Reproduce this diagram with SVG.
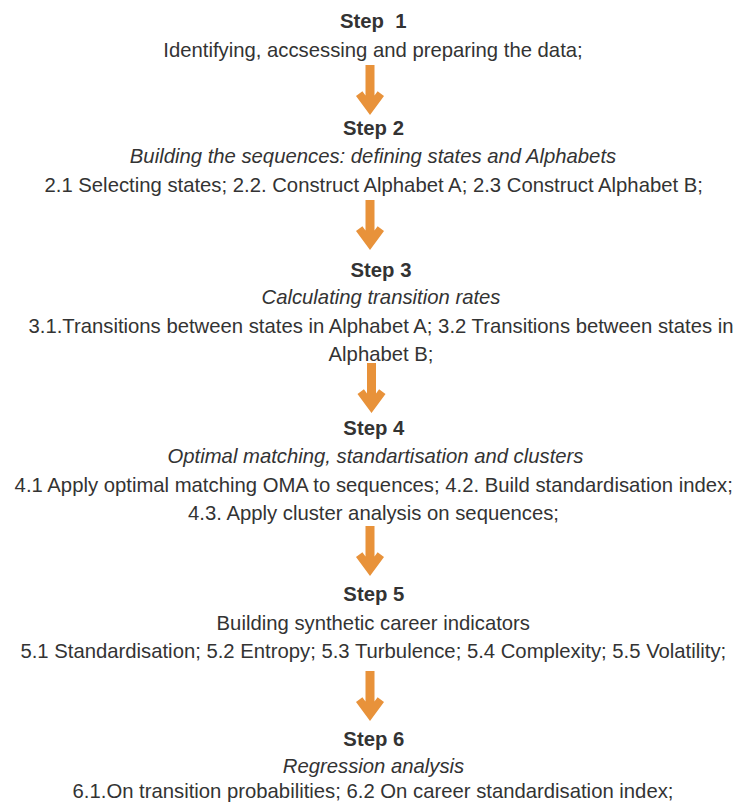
<svg xmlns="http://www.w3.org/2000/svg" xmlns:xlink="http://www.w3.org/1999/xlink" width="737" height="803" viewBox="0 0 737 803">
<style>
text{font-family:"Liberation Sans",Arial,sans-serif;font-size:20.3px;fill:#333333;text-anchor:middle;}
.h{font-weight:bold;}
.i{font-style:italic;}
.arrow{fill:#E8923A;}
</style>
<defs>
<path id="arrow" class="arrow" d="M-4.5,0 L4.5,0 L4.5,30.4 L7.6,26.2 L14,31 L0,50 L-14,31 L-7.6,26.2 L-4.5,30.4 Z"/>
</defs>
<rect width="737" height="803" fill="#ffffff"/>
<g id="connectors">
<use xlink:href="#arrow" href="#arrow" x="370" y="65"/>
<use xlink:href="#arrow" href="#arrow" x="370" y="200"/>
<use xlink:href="#arrow" href="#arrow" x="371.5" y="363"/>
<use xlink:href="#arrow" href="#arrow" x="370" y="526"/>
<use xlink:href="#arrow" href="#arrow" x="370" y="671"/>
</g>
<g id="step1">
<text class="h" x="373.3" y="28.3" xml:space="preserve" style="white-space:pre">Step  1</text>
<text x="373" y="57.3">Identifying, accsessing and preparing the data;</text>
</g>
<g id="step2">
<text class="h" x="373.5" y="135">Step 2</text>
<text class="i" x="373" y="163.3">Building the sequences: defining states and Alphabets</text>
<text x="373.7" y="191.7">2.1 Selecting states; 2.2. Construct Alphabet A; 2.3 Construct Alphabet B;</text>
</g>
<g id="step3">
<text class="h" x="381" y="276.7">Step 3</text>
<text class="i" x="381" y="304">Calculating transition rates</text>
<text x="381" y="333">3.1.Transitions between states in Alphabet A; 3.2 Transitions between states in</text>
<text x="381" y="361">Alphabet B;</text>
</g>
<g id="step4">
<text class="h" x="373.8" y="435">Step 4</text>
<text class="i" x="375.5" y="463">Optimal matching, standartisation and clusters</text>
<text x="373.7" y="491.7">4.1 Apply optimal matching OMA to sequences; 4.2. Build standardisation index;</text>
<text x="373.5" y="520">4.3. Apply cluster analysis on sequences;</text>
</g>
<g id="step5">
<text class="h" x="373.8" y="601">Step 5</text>
<text x="373.3" y="629.7">Building synthetic career indicators</text>
<text x="373.3" y="658">5.1 Standardisation; 5.2 Entropy; 5.3 Turbulence; 5.4 Complexity; 5.5 Volatility;</text>
</g>
<g id="step6">
<text class="h" x="373.8" y="745.7">Step 6</text>
<text class="i" x="373.5" y="772.5">Regression analysis</text>
<text x="373" y="798">6.1.On transition probabilities; 6.2 On career standardisation index;</text>
</g>
</svg>
